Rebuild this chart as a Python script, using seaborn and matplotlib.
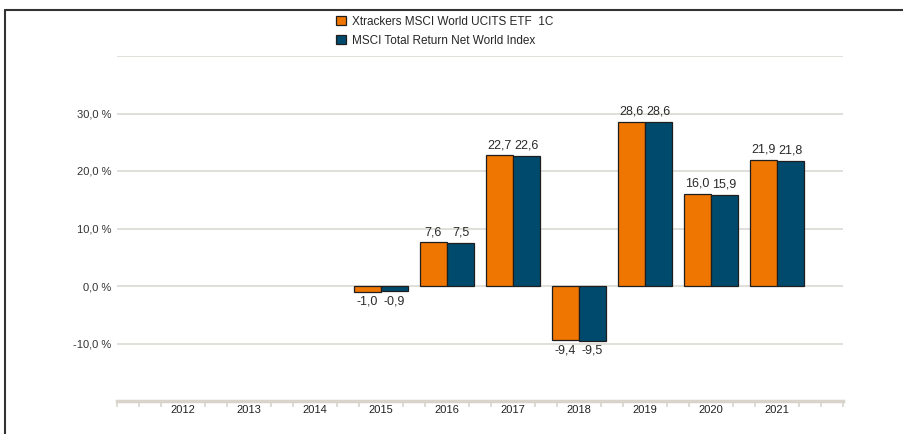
import matplotlib
matplotlib.use('Agg')
import matplotlib.pyplot as plt
from matplotlib.lines import Line2D
from matplotlib.ticker import MultipleLocator
import seaborn as sns
import pandas as pd

# Data
years = ['2012', '2013', '2014', '2015', '2016', '2017', '2018', '2019', '2020', '2021']
data_years = ['2015', '2016', '2017', '2018', '2019', '2020', '2021']
etf = [-1.0, 7.6, 22.7, -9.4, 28.6, 16.0, 21.9]
index = [-0.9, 7.5, 22.6, -9.5, 28.6, 15.9, 21.8]
series_names = ['Xtrackers MSCI World UCITS ETF  1C', 'MSCI Total Return Net World Index']
colors = ['#f07602', '#004a6d']

df = pd.DataFrame({
    'year': data_years * 2,
    'value': etf + index,
    'series': [series_names[0]] * len(etf) + [series_names[1]] * len(index),
})

sns.set_style('white')
plt.rcParams['font.family'] = ['Liberation Sans', 'DejaVu Sans']

fig = plt.figure(figsize=(9.04, 4.34), dpi=100)
ax = fig.add_axes([117 / 904, 1 - 401 / 434, (843 - 117) / 904, (401 - 56) / 434])

sns.barplot(data=df, x='year', y='value', hue='series', order=years,
            hue_order=series_names, palette=colors, saturation=1,
            edgecolor='#1e1e1e', linewidth=0.9, width=0.82, ax=ax, legend=True)

# value labels with decimal comma
for c in ax.containers:
    labels = [f"{v:.1f}".replace('.', ',') for v in c.datavalues]
    ax.bar_label(c, labels=labels, padding=3, fontsize=9, color='#2a2a2a')

ax.set_xlim(-1, 10)
ax.set_ylim(-20, 40)
ax.set_yticks([-20, -10, 0, 10, 20, 30, 40])
ax.set_yticklabels(['', '-10,0 %', '0,0 %', '10,0 %', '20,0 %', '30,0 %', ''],
                   fontsize=8, color='#333333')
ax.yaxis.grid(True, color='#dcd9d3', linewidth=1.2)
ax.set_axisbelow(True)
ax.tick_params(axis='y', length=0, pad=4)
ax.tick_params(axis='x', which='major', bottom=False, length=0, labelsize=8,
               colors='#222222', pad=3)
ax.xaxis.set_minor_locator(MultipleLocator(1 / 3))
ax.tick_params(axis='x', which='minor', bottom=True, direction='out', length=4,
               width=1.2, color='#d8d4cc')
ax.set_xlabel('')
ax.set_ylabel('')
for side in ['top', 'right', 'left']:
    ax.spines[side].set_visible(False)
ax.spines['bottom'].set_color('#d8d4cc')
ax.spines['bottom'].set_linewidth(2.5)

# legend at top
handles, lbls = ax.get_legend_handles_labels()
ax.get_legend().remove()
fig.legend(handles, lbls, loc='upper left', bbox_to_anchor=(325 / 904, 1 - 5 / 434),
           frameon=False, fontsize=8.5, handlelength=0.85, handleheight=0.85,
           handletextpad=0.5, labelspacing=0.6)

# frame border (only top and left are inside the picture)
top = 1 - 10 / 434
left = 5 / 904
fig.add_artist(Line2D([left, 1.0], [top, top], transform=fig.transFigure,
                      color='#333333', linewidth=1.5))
fig.add_artist(Line2D([left, left], [0, top], transform=fig.transFigure,
                      color='#333333', linewidth=1.5))

fig.savefig('out.png', dpi=100)
